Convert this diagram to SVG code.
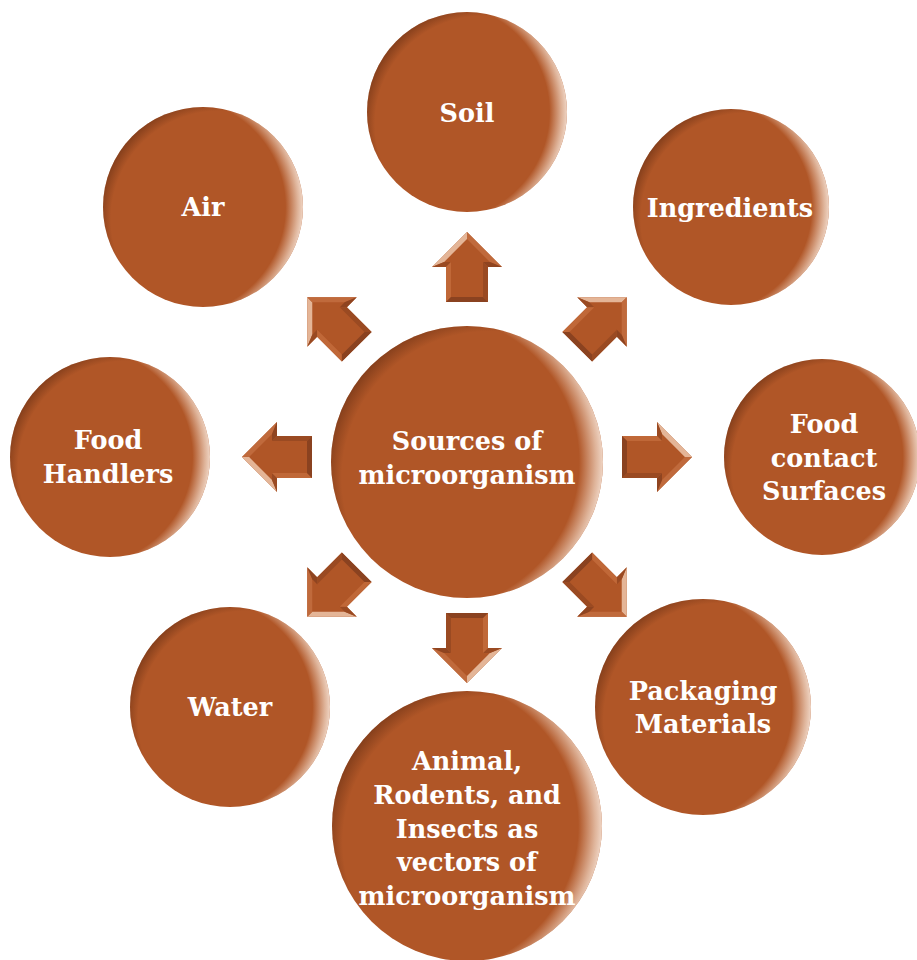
<svg xmlns="http://www.w3.org/2000/svg" xmlns:xlink="http://www.w3.org/1999/xlink" width="917" height="960" viewBox="0 0 917 960">
<style>
.base{fill:#b05627}
.hl{fill:url(#gHi)}
.dk{fill:url(#gDark)}
.t{font-family:"DejaVu Serif","Liberation Serif",serif;font-weight:bold;font-size:25.5px;fill:#ffffff;text-anchor:middle}
</style>
<defs>
<radialGradient id="gHi" cx="0.37" cy="0.5" r="0.63">
<stop offset="0" stop-color="#f3dccb" stop-opacity="0"/>
<stop offset="0.86" stop-color="#f3dccb" stop-opacity="0"/>
<stop offset="0.96" stop-color="#f3dccb" stop-opacity="0.7"/>
<stop offset="1" stop-color="#f6e3d6" stop-opacity="0.9"/>
</radialGradient>
<radialGradient id="gDark" cx="0.58" cy="0.56" r="0.6">
<stop offset="0" stop-color="#5a2810" stop-opacity="0"/>
<stop offset="0.9" stop-color="#5a2810" stop-opacity="0"/>
<stop offset="1" stop-color="#5a2810" stop-opacity="0.5"/>
</radialGradient>
<g id="arrow">
<path fill="#b05627" d="M0,-35 L35,0 L21,0 L21,35 L-21,35 L-21,0 L-35,0 Z"/>
<path fill="#e4b597" d="M0,-35 L-35,0 L-22.9,-5 L0,-27.9 Z"/>
<path fill="#c06a3c" d="M0,-35 L35,0 L22.9,-5 L0,-27.9 Z"/>
<path fill="#8f4420" d="M35,0 L21,0 L16,-5 L22.9,-5 Z"/>
<path fill="#9a4a22" d="M-35,0 L-21,0 L-16,-5 L-22.9,-5 Z"/>
<path fill="#9a4a22" d="M21,0 L21,35 L16,30 L16,-5 Z"/>
<path fill="#c06838" d="M-21,0 L-21,35 L-16,30 L-16,-5 Z"/>
<path fill="#8a4220" d="M-21,35 L21,35 L16,30 L-16,30 Z"/>
</g>
</defs>
<g id="connectors">
<use xlink:href="#arrow" transform="translate(467,267)"/>
<use xlink:href="#arrow" transform="translate(602,322) rotate(45)"/>
<use xlink:href="#arrow" transform="translate(657,457) rotate(90)"/>
<use xlink:href="#arrow" transform="translate(602,592) rotate(135)"/>
<use xlink:href="#arrow" transform="translate(467,648) rotate(180)"/>
<use xlink:href="#arrow" transform="translate(332,592) rotate(225)"/>
<use xlink:href="#arrow" transform="translate(277,457) rotate(270)"/>
<use xlink:href="#arrow" transform="translate(332,322) rotate(315)"/>
</g>
<g id="center">
<circle class="base" cx="467" cy="462" r="136"/><circle class="dk" cx="467" cy="462" r="136"/><circle class="hl" cx="467" cy="462" r="136"/>
<text class="t" x="467" y="450">Sources of</text>
<text class="t" x="467" y="484">microorganism</text>
</g>
<g id="soil">
<circle class="base" cx="467" cy="112" r="100"/><circle class="dk" cx="467" cy="112" r="100"/><circle class="hl" cx="467" cy="112" r="100"/>
<text class="t" x="467" y="122">Soil</text>
</g>
<g id="air">
<circle class="base" cx="203" cy="207" r="100"/><circle class="dk" cx="203" cy="207" r="100"/><circle class="hl" cx="203" cy="207" r="100"/>
<text class="t" x="203" y="216">Air</text>
</g>
<g id="ingredients">
<circle class="base" cx="731" cy="207" r="98"/><circle class="dk" cx="731" cy="207" r="98"/><circle class="hl" cx="731" cy="207" r="98"/>
<text class="t" x="730" y="217">Ingredients</text>
</g>
<g id="food-handlers">
<circle class="base" cx="110" cy="457" r="100"/><circle class="dk" cx="110" cy="457" r="100"/><circle class="hl" cx="110" cy="457" r="100"/>
<text class="t" x="108" y="449">Food</text>
<text class="t" x="108" y="483">Handlers</text>
</g>
<g id="food-contact-surfaces">
<circle class="base" cx="822" cy="457" r="98"/><circle class="dk" cx="822" cy="457" r="98"/><circle class="hl" cx="822" cy="457" r="98"/>
<text class="t" x="824" y="433">Food</text>
<text class="t" x="824" y="467">contact</text>
<text class="t" x="824" y="500">Surfaces</text>
</g>
<g id="water">
<circle class="base" cx="230" cy="707" r="100"/><circle class="dk" cx="230" cy="707" r="100"/><circle class="hl" cx="230" cy="707" r="100"/>
<text class="t" x="230" y="716">Water</text>
</g>
<g id="packaging-materials">
<circle class="base" cx="703" cy="707" r="108"/><circle class="dk" cx="703" cy="707" r="108"/><circle class="hl" cx="703" cy="707" r="108"/>
<text class="t" x="703" y="700">Packaging</text>
<text class="t" x="703" y="733">Materials</text>
</g>
<g id="animals">
<circle class="base" cx="467" cy="826" r="135"/><circle class="dk" cx="467" cy="826" r="135"/><circle class="hl" cx="467" cy="826" r="135"/>
<text class="t" x="467" y="770">Animal,</text>
<text class="t" x="467" y="804">Rodents, and</text>
<text class="t" x="467" y="838">Insects as</text>
<text class="t" x="467" y="871">vectors of</text>
<text class="t" x="467" y="905">microorganism</text>
</g>
</svg>
